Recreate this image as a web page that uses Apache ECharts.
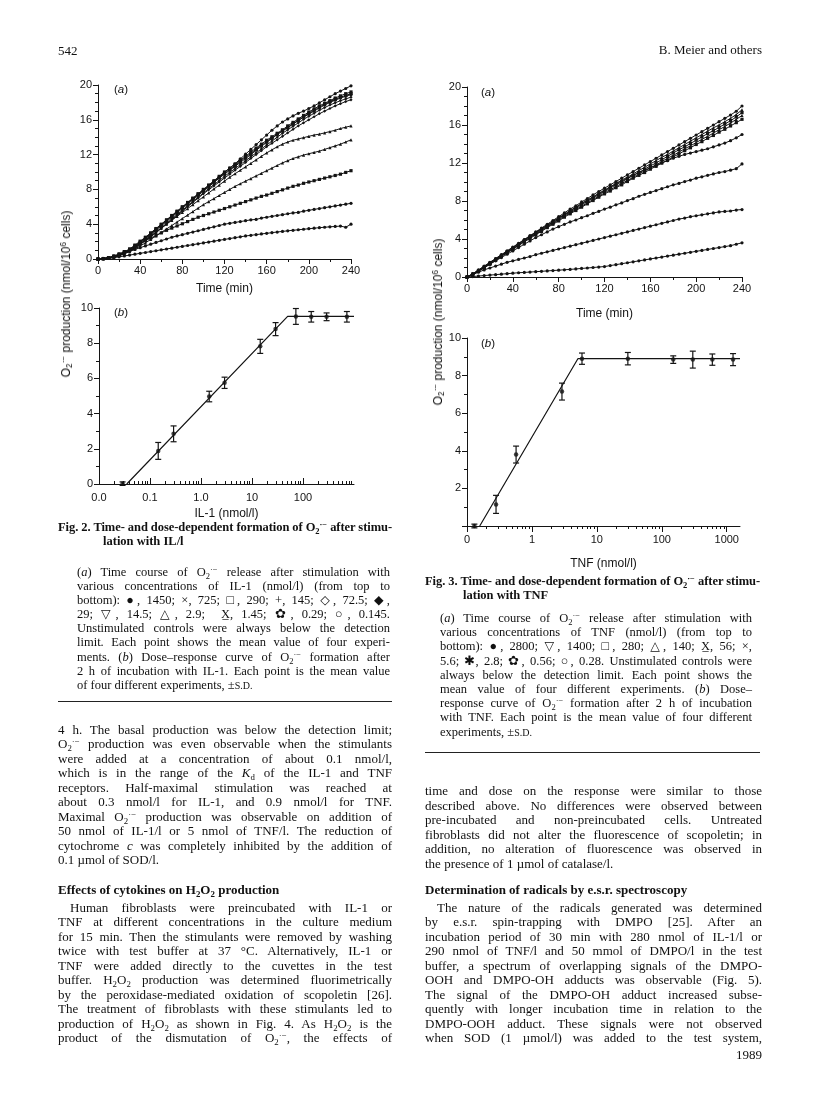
<!DOCTYPE html>
<html>
<head>
<meta charset="utf-8">
<script src="https://cdn.jsdelivr.net/npm/echarts@6.0.0/dist/echarts.min.js"></script>
<style>
  html, body { margin: 0; padding: 0; background: #fff; }
  #page { position: relative; width: 816px; height: 1097px; overflow: hidden; background: #fff; }
  #chart { position: absolute; left: 0; top: 0; width: 816px; height: 1097px; }
  .ln { position: absolute; white-space: nowrap; font-family: 'Liberation Serif', 'DejaVu Serif', serif; color: #111; z-index: 2; }
  .just { text-align: justify; text-align-last: justify; }
  .bold { font-weight: bold; }
  .ind { display: inline-block; width: 12px; }
  sub { font-size: 68%; vertical-align: -0.3em; line-height: 0; }
  sup { font-size: 68%; vertical-align: 0.5em; line-height: 0; }
  .lbl { position: absolute; font-family: 'Liberation Sans', Arial, sans-serif; color: #111; z-index: 2; white-space: nowrap; }
  .ytitle { position: absolute; font-family: 'Liberation Sans', Arial, sans-serif; font-size: 12px; color: #111; white-space: nowrap; transform: translate(-50%, -50%) rotate(-90deg); z-index: 2; }
  .rule { position: absolute; border-top: 1.5px solid #222; z-index: 2; }
</style>
</head>
<body>
<div id="page">
  <div id="chart"></div>
</div>
<script>
// time axis of the kinetic panels (min)
const timeMin = [0,5,10,15,20,25,30,35,40,45,50,55,60,65,70,75,80,85,90,95,100,105,110,115,120,
  125,130,135,140,145,150,155,160,165,170,175,180,185,190,195,200,205,210,215,220,225,230,235,240];

// Fig. 2a, IL-1 (nmol/l), top to bottom
const il1_1450 = [0,0.05,0.15,0.3,0.5,0.75,1.1,1.5,1.95,2.4,2.9,3.4,3.9,4.4,4.9,5.4,5.9,6.4,6.9,7.4,7.9,8.4,8.9,9.4,9.95,10.45,10.95,11.5,12.05,12.6,13.15,13.7,14.25,14.8,15.3,15.75,16.1,16.45,16.75,17.0,17.3,17.6,17.95,18.3,18.65,19.0,19.3,19.6,19.9];
const il1_725 = [0,0.05,0.15,0.3,0.5,0.8,1.15,1.6,2.05,2.5,3.0,3.5,4.0,4.5,5.0,5.5,6.0,6.5,7.0,7.5,8.0,8.5,9.0,9.5,10.0,10.45,10.9,11.35,11.8,12.3,12.75,13.2,13.65,14.05,14.45,14.85,15.3,15.7,16.1,16.5,16.9,17.25,17.6,17.9,18.2,18.5,18.75,19.0,19.2];
const il1_290 = [0,0.05,0.12,0.28,0.48,0.75,1.1,1.5,1.95,2.45,2.95,3.45,3.95,4.45,4.95,5.45,5.95,6.45,6.95,7.45,7.95,8.45,8.9,9.4,9.85,10.3,10.75,11.2,11.7,12.15,12.6,13.05,13.5,13.9,14.35,14.75,15.15,15.55,15.95,16.35,16.75,17.1,17.45,17.8,18.1,18.35,18.6,18.8,19.0];
const il1_145 = [0,0.04,0.12,0.25,0.45,0.7,1.0,1.4,1.85,2.3,2.8,3.3,3.8,4.3,4.8,5.3,5.8,6.3,6.8,7.3,7.8,8.3,8.8,9.3,9.75,10.2,10.65,11.1,11.55,12.0,12.5,12.95,13.4,13.85,14.3,14.7,15.1,15.5,15.9,16.3,16.65,17.0,17.35,17.7,18.0,18.25,18.5,18.7,18.9];
const il1_72_5 = [0,0.04,0.1,0.22,0.4,0.65,0.95,1.3,1.7,2.15,2.6,3.1,3.6,4.1,4.6,5.1,5.6,6.1,6.6,7.1,7.6,8.1,8.55,9.0,9.5,9.95,10.4,10.85,11.3,11.75,12.2,12.65,13.1,13.55,14.0,14.45,14.85,15.25,15.65,16.05,16.4,16.75,17.1,17.4,17.7,17.95,18.2,18.4,18.6];
const il1_29 = [0,0.04,0.1,0.2,0.38,0.6,0.9,1.25,1.65,2.1,2.55,3.0,3.5,4.0,4.5,5.0,5.5,6.0,6.5,7.0,7.5,7.95,8.4,8.85,9.3,9.75,10.2,10.65,11.1,11.55,12.0,12.45,12.9,13.3,13.7,14.1,14.5,14.9,15.3,15.65,16.0,16.35,16.7,17.0,17.3,17.6,17.85,18.1,18.3];
const il1_14_5 = [0,0.04,0.12,0.25,0.45,0.7,1.0,1.35,1.75,2.2,2.65,3.1,3.55,4.0,4.45,4.9,5.35,5.8,6.25,6.7,7.15,7.6,8.05,8.5,8.95,9.4,9.8,10.2,10.6,11.0,11.4,11.8,12.2,12.55,12.9,13.2,13.45,13.65,13.8,13.95,14.1,14.25,14.35,14.5,14.65,14.8,15.0,15.15,15.3];
const il1_2_9 = [0,0.03,0.1,0.22,0.4,0.6,0.85,1.15,1.5,1.85,2.25,2.65,3.05,3.45,3.85,4.25,4.65,5.05,5.45,5.85,6.25,6.6,6.95,7.3,7.65,8.0,8.35,8.65,8.95,9.25,9.55,9.85,10.15,10.45,10.75,11.05,11.3,11.55,11.75,11.95,12.1,12.25,12.4,12.6,12.8,13.0,13.2,13.45,13.7];
const il1_1_45 = [0,0.05,0.15,0.35,0.6,0.85,1.1,1.45,1.8,2.1,2.4,2.7,3.0,3.3,3.55,3.8,4.05,4.3,4.55,4.8,5.0,5.2,5.4,5.6,5.8,6.0,6.2,6.4,6.6,6.8,7.0,7.2,7.35,7.55,7.75,7.95,8.15,8.35,8.5,8.7,8.85,9.0,9.15,9.3,9.45,9.6,9.75,9.95,10.15];
const il1_0_29 = [0,0.05,0.15,0.3,0.5,0.7,0.9,1.1,1.3,1.5,1.7,1.9,2.1,2.3,2.5,2.65,2.8,2.95,3.1,3.25,3.4,3.55,3.7,3.85,4.0,4.1,4.2,4.3,4.4,4.5,4.55,4.7,4.8,4.9,5.0,5.1,5.2,5.3,5.35,5.5,5.6,5.7,5.8,5.9,6.0,6.1,6.2,6.3,6.4];
const il1_0_145 = [0,0.03,0.08,0.15,0.25,0.35,0.45,0.55,0.65,0.75,0.85,0.95,1.05,1.15,1.25,1.35,1.45,1.55,1.65,1.75,1.85,1.95,2.05,2.15,2.25,2.35,2.45,2.55,2.65,2.72,2.8,2.88,2.95,3.03,3.1,3.17,3.24,3.3,3.36,3.42,3.48,3.54,3.6,3.65,3.7,3.74,3.78,3.65,4.0];

// Fig. 3a, TNF (nmol/l), top to bottom
const tnf_2800 = [0,0.35,0.75,1.15,1.55,1.95,2.35,2.75,3.15,3.55,3.95,4.35,4.75,5.15,5.55,5.95,6.35,6.75,7.15,7.5,7.9,8.25,8.65,9.0,9.35,9.7,10.05,10.4,10.75,11.1,11.45,11.8,12.15,12.5,12.85,13.2,13.55,13.9,14.25,14.6,14.95,15.3,15.65,16.0,16.35,16.7,17.05,17.45,18.0];
const tnf_1400 = [0,0.3,0.7,1.1,1.5,1.9,2.3,2.7,3.1,3.5,3.9,4.3,4.7,5.1,5.45,5.85,6.25,6.6,7.0,7.35,7.75,8.1,8.45,8.8,9.15,9.5,9.85,10.2,10.5,10.85,11.2,11.55,11.9,12.25,12.6,12.9,13.25,13.6,13.95,14.3,14.65,15.0,15.35,15.7,16.0,16.35,16.7,17.1,17.6];
const tnf_280 = [0,0.3,0.65,1.05,1.45,1.85,2.25,2.65,3.0,3.4,3.8,4.2,4.6,4.95,5.35,5.7,6.1,6.5,6.85,7.2,7.6,7.95,8.3,8.65,9.0,9.35,9.7,10.0,10.35,10.7,11.0,11.35,11.7,12.0,12.35,12.7,13.05,13.4,13.7,14.05,14.4,14.75,15.1,15.4,15.75,16.1,16.45,16.85,17.3];
const tnf_140 = [0,0.28,0.62,1.0,1.4,1.8,2.2,2.6,2.95,3.35,3.75,4.15,4.5,4.9,5.25,5.65,6.0,6.4,6.75,7.1,7.45,7.8,8.15,8.5,8.85,9.2,9.5,9.85,10.15,10.5,10.85,11.15,11.5,11.8,12.15,12.5,12.8,13.15,13.5,13.8,14.15,14.5,14.8,15.15,15.5,15.85,16.2,16.6,17.0];
const tnf_56 = [0,0.25,0.6,0.95,1.35,1.75,2.15,2.55,2.9,3.3,3.7,4.05,4.45,4.8,5.2,5.55,5.9,6.3,6.65,7.0,7.35,7.7,8.05,8.4,8.75,9.05,9.4,9.7,10.05,10.4,10.7,11.0,11.35,11.65,12.0,12.3,12.65,12.95,13.3,13.6,13.95,14.25,14.6,14.9,15.25,15.55,15.9,16.25,16.6];
const tnf_5_6 = [0,0.3,0.7,1.1,1.5,1.9,2.3,2.7,3.1,3.5,3.9,4.3,4.65,5.05,5.4,5.8,6.2,6.55,6.95,7.3,7.7,8.05,8.4,8.75,9.1,9.45,9.8,10.1,10.4,10.7,11.0,11.25,11.5,11.75,12.0,12.25,12.5,12.7,12.9,13.05,13.2,13.35,13.5,13.7,13.9,14.1,14.35,14.65,15.0];
const tnf_2_8 = [0,0.3,0.65,1.0,1.35,1.7,2.05,2.4,2.75,3.1,3.45,3.8,4.15,4.45,4.75,5.05,5.3,5.55,5.8,6.0,6.25,6.45,6.7,6.9,7.15,7.35,7.6,7.8,8.05,8.25,8.5,8.7,8.9,9.1,9.3,9.5,9.7,9.85,10.05,10.2,10.4,10.55,10.7,10.85,11.0,11.1,11.25,11.4,11.9];
const tnf_0_56 = [0,0.25,0.5,0.75,0.95,1.15,1.35,1.55,1.7,1.85,2.0,2.15,2.35,2.5,2.65,2.8,2.95,3.1,3.25,3.4,3.55,3.7,3.85,4.0,4.15,4.3,4.45,4.6,4.75,4.9,5.05,5.2,5.35,5.5,5.65,5.8,5.95,6.1,6.2,6.35,6.45,6.55,6.65,6.75,6.85,6.9,6.95,7.05,7.1];
const tnf_0_28 = [0,0.05,0.1,0.15,0.2,0.25,0.3,0.35,0.4,0.45,0.48,0.52,0.56,0.6,0.64,0.68,0.72,0.76,0.8,0.85,0.9,0.95,1.0,1.05,1.1,1.2,1.3,1.4,1.5,1.6,1.7,1.8,1.9,2.0,2.1,2.2,2.3,2.4,2.5,2.6,2.7,2.8,2.9,3.0,3.1,3.2,3.3,3.45,3.6];

// Fig. 2b, dose-response to IL-1 after 2 h
const il1Dose = [0.029, 0.145, 0.29, 1.45, 2.9, 14.5, 29, 72.5, 145, 290, 725];
const il1Mean = [0.02, 1.88, 2.85, 4.97, 5.75, 7.82, 8.8, 9.52, 9.5, 9.5, 9.5];
const il1Sd = [0.1, 0.48, 0.45, 0.3, 0.32, 0.4, 0.37, 0.45, 0.3, 0.22, 0.3];
const il1FitX = [0.035, 50, 1000];
const il1FitY = [0, 9.52, 9.52];

// Fig. 3b, dose-response to TNF after 2 h
const tnfDose = [0.13, 0.28, 0.57, 2.9, 5.9, 30, 150, 300, 600, 1250];
const tnfMean = [0, 1.15, 3.8, 7.15, 8.9, 8.9, 8.85, 8.85, 8.85, 8.85];
const tnfSd = [0.1, 0.48, 0.45, 0.45, 0.3, 0.33, 0.2, 0.45, 0.3, 0.32];
const tnfFitX = [0.157, 5.1, 1600];
const tnfFitY = [0, 8.9, 8.9];

const il1Labels = { '-2': '0.0', '-1': '0.1', '0': '1.0', '1': '10', '2': '100' };
const tnfLabels = { '-1': '0', '0': '1', '1': '10', '2': '100', '3': '1000' };

const il1Series = [
  ['●, 1450', il1_1450, 'circle'], ['×, 725', il1_725, 'rect'], ['□, 290', il1_290, 'rect'],
  ['+, 145', il1_145, 'circle'], ['◇, 72.5', il1_72_5, 'diamond'], ['◆, 29', il1_29, 'diamond'],
  ['▽, 14.5', il1_14_5, 'triangle'], ['△, 2.9', il1_2_9, 'triangle'], ['1.45', il1_1_45, 'rect'],
  ['0.29', il1_0_29, 'circle'], ['○, 0.145', il1_0_145, 'circle']
];
const tnfSeries = [
  ['●, 2800', tnf_2800, 'circle'], ['▽, 1400', tnf_1400, 'triangle'], ['□, 280', tnf_280, 'rect'],
  ['△, 140', tnf_140, 'triangle'], ['56', tnf_56, 'rect'], ['×, 5.6', tnf_5_6, 'circle'],
  ['2.8', tnf_2_8, 'circle'], ['0.56', tnf_0_56, 'circle'], ['○, 0.28', tnf_0_28, 'circle']
];

const INK = '#141414';
const labelFont = { fontFamily: 'Liberation Sans', fontSize: 11, color: INK };
const nameFont = { fontFamily: 'Liberation Sans', fontSize: 12, color: INK };

function logMinorTicks(fromExp, toExp, max) {
  const out = [];
  for (let e = fromExp; e <= toExp; e++) {
    for (let k = 2; k <= 9; k++) {
      const v = k * Math.pow(10, e);
      if (v < max) out.push(v);
    }
  }
  return out;
}

function decadeLabel(map) {
  return function (v) {
    const l = Math.log10(v);
    const e = Math.round(l);
    if (Math.abs(l - e) > 1e-6) return '';
    return map[String(e)] || '';
  };
}

function timeAxis(grid, gap) {
  return {
    type: 'value', gridIndex: grid, min: 0, max: 240, interval: 40,
    axisLine: { lineStyle: { color: INK, width: 1 } },
    axisTick: { length: 5, lineStyle: { color: INK } },
    minorTick: { show: true, splitNumber: 2, length: 3, lineStyle: { color: INK } },
    axisLabel: Object.assign({ margin: 6 }, labelFont),
    splitLine: { show: false },
    name: 'Time (min)', nameLocation: 'middle', nameGap: gap, nameTextStyle: nameFont
  };
}

function valueAxis(grid, max, interval, hideZero) {
  return {
    type: 'value', gridIndex: grid, min: 0, max: max, interval: interval,
    axisLine: { show: true, lineStyle: { color: INK, width: 1 } },
    axisTick: { show: true, length: 5, lineStyle: { color: INK } },
    minorTick: { show: true, splitNumber: interval, length: 3, lineStyle: { color: INK } },
    axisLabel: Object.assign({ margin: 6, formatter: v => (hideZero && v === 0) ? '' : String(v) }, labelFont),
    splitLine: { show: false }
  };
}

function logAxis(grid, min, max, inside, labels, name, gap) {
  return {
    type: 'log', logBase: 10, gridIndex: grid, min: min, max: max,
    axisLine: { lineStyle: { color: INK, width: 1 } },
    axisTick: { inside: inside, length: 6, lineStyle: { color: INK } },
    axisLabel: Object.assign({ margin: 8, formatter: decadeLabel(labels), showMaxLabel: false }, labelFont),
    splitLine: { show: false },
    name: name, nameLocation: 'middle', nameGap: gap, nameTextStyle: nameFont
  };
}

function minorLogAxis(grid, min, max, inside, values) {
  return {
    type: 'log', logBase: 10, gridIndex: grid, min: min, max: max, position: 'bottom',
    axisLine: { show: false },
    axisTick: { show: true, inside: inside, length: 3, customValues: values, lineStyle: { color: INK } },
    axisLabel: { show: false },
    splitLine: { show: false }
  };
}

function curveSeries(list, xi, yi) {
  return list.map(([name, vals, sym]) => ({
    type: 'line', name: name, xAxisIndex: xi, yAxisIndex: yi,
    data: timeMin.map((t, i) => [t, vals[i]]),
    symbol: sym, symbolSize: 3.2, showSymbol: true,
    lineStyle: { color: INK, width: 1 }, itemStyle: { color: INK },
    silent: true, clip: false
  }));
}

function errBar(params, api) {
  const top = api.coord([api.value(0), api.value(2)]);
  const bot = api.coord([api.value(0), api.value(1)]);
  const w = 3;
  const st = { stroke: INK, lineWidth: 1.2 };
  return {
    type: 'group', children: [
      { type: 'line', shape: { x1: top[0], y1: top[1], x2: bot[0], y2: bot[1] }, style: st },
      { type: 'line', shape: { x1: top[0] - w, y1: top[1], x2: top[0] + w, y2: top[1] }, style: st },
      { type: 'line', shape: { x1: bot[0] - w, y1: bot[1], x2: bot[0] + w, y2: bot[1] }, style: st }
    ]
  };
}

function doseSeries(dose, mean, sd, fitX, fitY, xi, yi) {
  return [
    {
      type: 'line', xAxisIndex: xi, yAxisIndex: yi, showSymbol: false, silent: true,
      data: fitX.map((x, i) => [x, fitY[i]]), lineStyle: { color: INK, width: 1.2 }
    },
    {
      type: 'custom', xAxisIndex: xi, yAxisIndex: yi, silent: true, clip: false,
      renderItem: errBar, encode: { x: 0, y: [1, 2] },
      data: dose.map((x, i) => [x, mean[i] - sd[i], mean[i] + sd[i]])
    },
    {
      type: 'scatter', xAxisIndex: xi, yAxisIndex: yi, silent: true, clip: false,
      symbol: 'circle', symbolSize: 4.5, itemStyle: { color: INK },
      data: dose.map((x, i) => [x, mean[i]])
    }
  ];
}

const chart = echarts.init(document.getElementById('chart'), null, { renderer: 'canvas' });
chart.setOption({
  animation: false,
  backgroundColor: 'transparent',
  grid: [
    { left: 98, top: 85, width: 253, height: 174, outerBoundsMode: 'none' },
    { left: 99, top: 308, width: 255, height: 176, outerBoundsMode: 'none' },
    { left: 467, top: 87, width: 275, height: 190, outerBoundsMode: 'none' },
    { left: 467, top: 338, width: 273, height: 188, outerBoundsMode: 'none' }
  ],
  xAxis: [
    timeAxis(0, 24),
    logAxis(1, 0.01, 1000, true, il1Labels, 'IL-1 (nmol/l)', 24),
    minorLogAxis(1, 0.01, 1000, true, logMinorTicks(-2, 2, 1000)),
    timeAxis(2, 31),
    logAxis(3, 0.1, 1600, false, tnfLabels, 'TNF (nmol/l)', 32),
    minorLogAxis(3, 0.1, 1600, false, logMinorTicks(-1, 3, 1600))
  ],
  yAxis: [
    valueAxis(0, 20, 4, false),
    valueAxis(1, 10, 2, false),
    valueAxis(2, 20, 4, false),
    valueAxis(3, 10, 2, true)
  ],
  series: [].concat(
    curveSeries(il1Series, 0, 0),
    doseSeries(il1Dose, il1Mean, il1Sd, il1FitX, il1FitY, 1, 1),
    curveSeries(tnfSeries, 3, 2),
    doseSeries(tnfDose, tnfMean, tnfSd, tnfFitX, tnfFitY, 4, 3)
  )
});

// ---- page text ----
const page = document.getElementById('page');
const O2 = 'O<sub>2</sub><sup>·−</sup>';

function addBlock(lines, left, centerY, width, step, size, opts) {
  opts = opts || {};
  lines.forEach((html, i) => {
    const d = document.createElement('div');
    d.className = 'ln' + (opts.bold ? ' bold' : '');
    d.style.cssText = `left:${left}px;top:${centerY + i * step - step / 2}px;width:${width}px;font-size:${size}px;line-height:${step}px;`;
    d.innerHTML = '<span>' + html + '</span>';
    page.appendChild(d);
    const w = d.firstChild.getBoundingClientRect().width;
    if (w > width) d.style.letterSpacing = ((width - w) / d.textContent.length).toFixed(3) + 'px';
    const isLast = i === lines.length - 1 && !opts.justifyLast;
    if (!isLast && !opts.noJustify) d.classList.add('just');
  });
}

function addLabel(html, x, y, size, cls) {
  const d = document.createElement('div');
  d.className = cls || 'lbl';
  d.style.left = x + 'px';
  d.style.top = y + 'px';
  if (size) d.style.fontSize = size + 'px';
  d.innerHTML = html;
  page.appendChild(d);
  return d;
}

function addRule(x, y, w) {
  const d = document.createElement('div');
  d.className = 'rule';
  d.style.cssText = `left:${x}px;top:${y}px;width:${w}px;`;
  page.appendChild(d);
}

// running head
addBlock(['542'], 58, 50, 40, 15, 13, { noJustify: true });
const head = addLabel('B. Meier and others', 0, 42, 13, 'ln');
head.style.left = (762 - head.getBoundingClientRect().width) + 'px';

// panel letters and y titles
addLabel('(<i>a</i>)', 114, 83, 11.5);
addLabel('(<i>b</i>)', 114, 306, 11.5);
addLabel('(<i>a</i>)', 481, 86, 11.5);
addLabel('(<i>b</i>)', 481, 337, 11.5);
addLabel(O2 + ' production (nmol/10<sup>6</sup> cells)', 66, 294, null, 'ytitle');
addLabel(O2 + ' production (nmol/10<sup>6</sup> cells)', 438, 322, null, 'ytitle');

// Fig. 2 legend
addBlock(['Fig. 2. Time- and dose-dependent formation of ' + O2 + ' after stimu-'], 58, 528, 334, 13.7, 12.5, { bold: true, justifyLast: true });
addBlock(['lation with IL/l'], 103, 541.7, 200, 13.7, 12.5, { bold: true });
addBlock([
  '(<i>a</i>) Time course of ' + O2 + ' release after stimulation with',
  'various concentrations of IL-1 (nmol/l) (from top to',
  'bottom): ●, 1450; ×, 725; □, 290; +, 145; ◇, 72.5; ◆,',
  '29; ▽, 14.5; △, 2.9; &nbsp;X̲, 1.45; ✿, 0.29; ○, 0.145.',
  'Unstimulated controls were always below the detection',
  'limit. Each point shows the mean value of four experi-',
  'ments. (<i>b</i>) Dose–response curve of ' + O2 + ' formation after',
  '2 h of incubation with IL-1. Each point is the mean value',
  'of four different experiments, ±<span style="font-size:80%">S.D.</span>'
], 77, 572, 313, 14.1, 12.5);
addRule(58, 701, 334);

// Fig. 3 legend
addBlock(['Fig. 3. Time- and dose-dependent formation of ' + O2 + ' after stimu-'], 425, 582, 335, 13.5, 12.5, { bold: true, justifyLast: true });
addBlock(['lation with TNF'], 463, 595.5, 200, 13.5, 12.5, { bold: true });
addBlock([
  '(<i>a</i>) Time course of ' + O2 + ' release after stimulation with',
  'various concentrations of TNF (nmol/l) (from top to',
  'bottom): ●, 2800; ▽, 1400; □, 280; △, 140; X̲, 56; ×,',
  '5.6; ✱, 2.8; ✿, 0.56; ○, 0.28. Unstimulated controls were',
  'always below the detection limit. Each point shows the',
  'mean value of four different experiments. (<i>b</i>) Dose–',
  'response curve of ' + O2 + ' formation after 2 h of incubation',
  'with TNF. Each point is the mean value of four different',
  'experiments, ±<span style="font-size:80%">S.D.</span>'
], 440, 618, 312, 14.2, 12.5);
addRule(425, 752, 335);

// left column body
addBlock([
  '4 h. The basal production was below the detection limit;',
  O2 + ' production was even observable when the stimulants',
  'were added at a concentration of about 0.1 nmol/l,',
  'which is in the range of the <i>K</i><sub>d</sub> of the IL-1 and TNF',
  'receptors. Half-maximal stimulation was reached at',
  'about 0.3 nmol/l for IL-1, and 0.9 nmol/l for TNF.',
  'Maximal ' + O2 + ' production was observable on addition of',
  '50 nmol of IL-1/l or 5 nmol of TNF/l. The reduction of',
  'cytochrome <i>c</i> was completely inhibited by the addition of',
  '0.1 µmol of SOD/l.'
], 58, 730, 334, 14.5, 13);
addBlock(['Effects of cytokines on H<sub>2</sub>O<sub>2</sub> production'], 58, 890, 334, 14.5, 13, { bold: true });
addBlock([
  '<i class="ind"></i>Human fibroblasts were preincubated with IL-1 or',
  'TNF at different concentrations in the culture medium',
  'for 15 min. Then the stimulants were removed by washing',
  'twice with test buffer at 37 °C. Alternatively, IL-1 or',
  'TNF were added directly to the cuvettes in the test',
  'buffer. H<sub>2</sub>O<sub>2</sub> production was determined fluorimetrically',
  'by the peroxidase-mediated oxidation of scopoletin [26].',
  'The treatment of fibroblasts with these stimulants led to',
  'production of H<sub>2</sub>O<sub>2</sub> as shown in Fig. 4. As H<sub>2</sub>O<sub>2</sub> is the',
  'product of the dismutation of ' + O2 + ', the effects of'
], 58, 908, 334, 14.5, 13, { justifyLast: true });

// right column body
addBlock([
  'time and dose on the response were similar to those',
  'described above. No differences were observed between',
  'pre-incubated and non-preincubated cells. Untreated',
  'fibroblasts did not alter the fluorescence of scopoletin; in',
  'addition, no alteration of fluorescence was observed in',
  'the presence of 1 µmol of catalase/l.'
], 425, 791.7, 337, 14.5, 13);
addBlock(['Determination of radicals by e.s.r. spectroscopy'], 425, 890, 337, 14.5, 13, { bold: true });
addBlock([
  '<i class="ind"></i>The nature of the radicals generated was determined',
  'by e.s.r. spin-trapping with DMPO [25]. After an',
  'incubation period of 30 min with 280 nmol of IL-1/l or',
  '290 nmol of TNF/l and 50 mmol of DMPO/l in the test',
  'buffer, a spectrum of overlapping signals of the DMPO-',
  'OOH and DMPO-OH adducts was observable (Fig. 5).',
  'The signal of the DMPO-OH adduct increased subse-',
  'quently with longer incubation time in relation to the',
  'DMPO-OOH adduct. These signals were not observed',
  'when SOD (1 µmol/l) was added to the test system,'
], 425, 908, 337, 14.5, 13, { justifyLast: true });
const folio = addLabel('1989', 0, 1047, 13, 'ln');
folio.style.left = (762 - folio.getBoundingClientRect().width) + 'px';
</script>
</body>
</html>
